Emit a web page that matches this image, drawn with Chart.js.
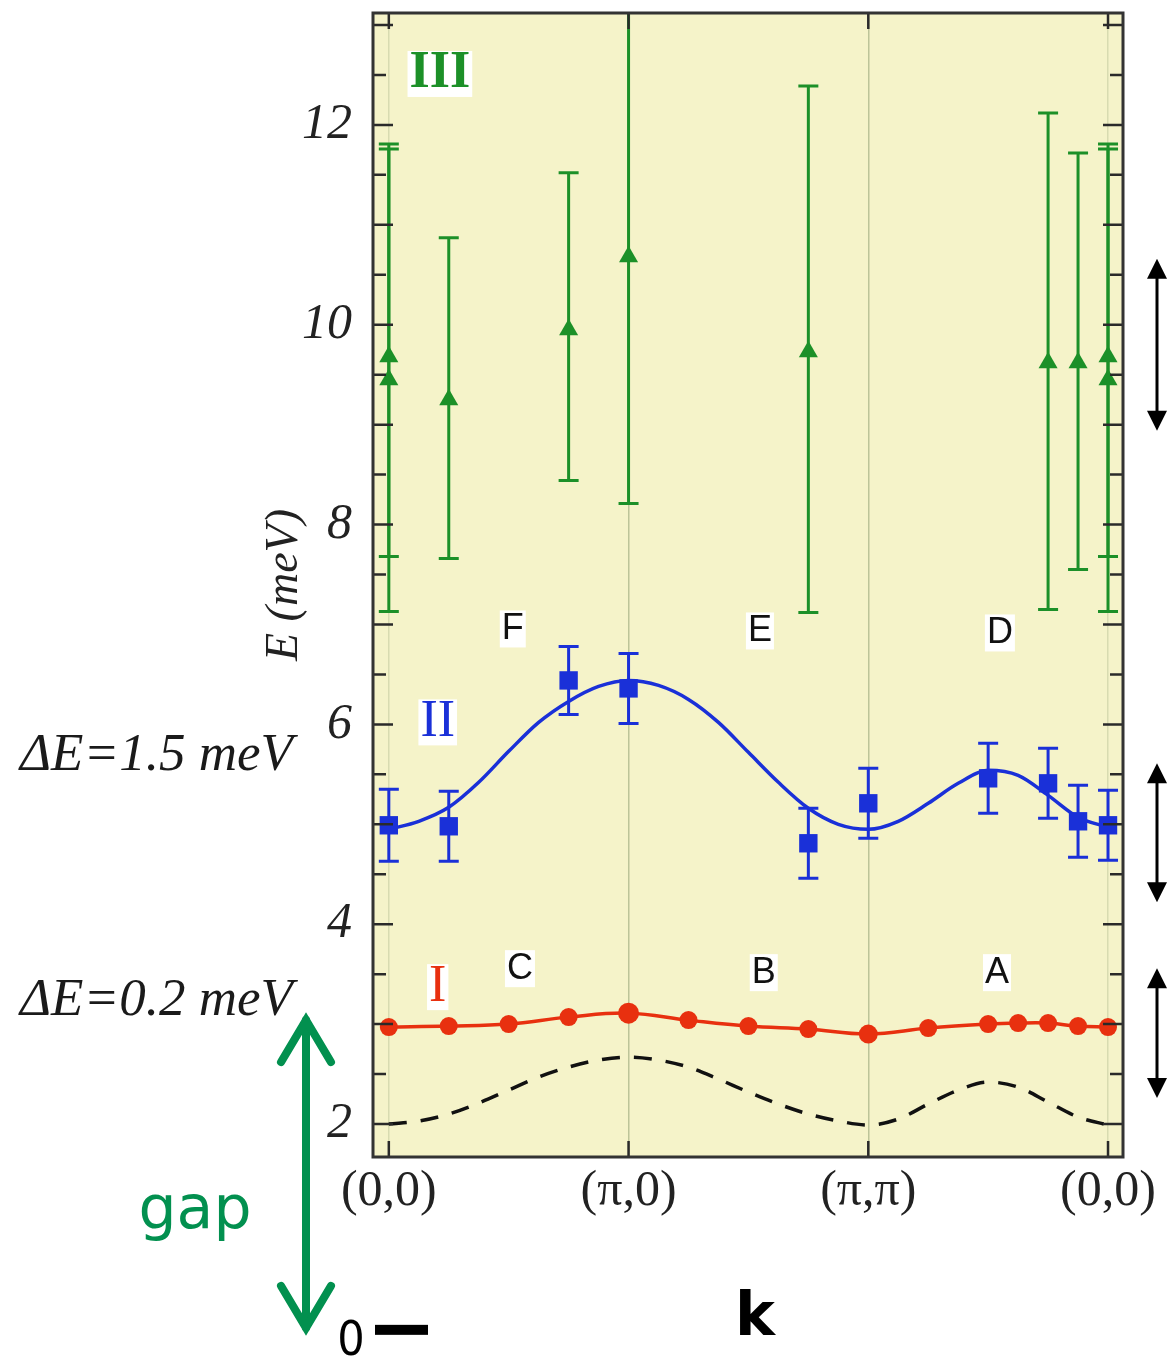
<!DOCTYPE html>
<html>
<head>
<meta charset="utf-8">
<script src="https://cdn.jsdelivr.net/npm/chart.js@4.4.0/dist/chart.umd.min.js"></script>
<style>
  body { margin: 0; background: #fff; }
  #wrap { width: 1173px; height: 1359px; }
</style>
</head>
<body>
<div id="wrap"><canvas id="grafic" width="1173" height="1359"></canvas></div>
<script>
// k path: 0=(0,0), 1=(pi,0), 2=(pi,pi), 3=(0,0)
const xTickLabels = ['(0,0)', '(π,0)', '(π,π)', '(0,0)'];
const yTickLabels = [2, 4, 6, 8, 10, 12];

// branch I (red)
const kI = [0, 0.25, 0.5, 0.75, 1, 1.25, 1.5, 1.75, 2, 2.25, 2.5, 2.625, 2.75, 2.875, 3];
const eI = [2.97, 2.98, 3.00, 3.07, 3.11, 3.04, 2.98, 2.95, 2.90, 2.96, 3.00, 3.01, 3.01, 2.98, 2.97];
const sizeI = [9, 9, 9, 9, 10.5, 9, 9, 9, 9.5, 9, 9, 9, 9, 9, 9];

// branch II (blue squares)
const kII = [0, 0.25, 0.75, 1, 1.75, 2, 2.5, 2.75, 2.875, 3];
const eII = [4.99, 4.98, 6.44, 6.36, 4.81, 5.21, 5.46, 5.41, 5.03, 4.99];
const errII = [0.36, 0.35, 0.34, 0.35, 0.35, 0.35, 0.35, 0.35, 0.36, 0.35];

// fit through branch II and the dashed curve, read along the path
const kCurve = [0, 0.125, 0.25, 0.375, 0.5, 0.625, 0.75, 0.875, 1, 1.125, 1.25, 1.375, 1.5,
                1.625, 1.75, 1.875, 2, 2.125, 2.25, 2.375, 2.5, 2.625, 2.75, 2.875, 3];
const eFitII = [4.95, 5.03, 5.17, 5.42, 5.73, 6.02, 6.23, 6.38, 6.44, 6.39, 6.25, 6.02, 5.72,
                5.42, 5.16, 5.00, 4.95, 5.03, 5.21, 5.41, 5.54, 5.49, 5.29, 5.07, 4.97];
const eDash = [2.00, 2.03, 2.10, 2.21, 2.34, 2.47, 2.57, 2.64, 2.67, 2.64, 2.57, 2.45, 2.32,
               2.20, 2.10, 2.03, 1.99, 2.05, 2.20, 2.34, 2.42, 2.37, 2.22, 2.07, 1.99];

// branch III (green triangles)
const kIII = [0, 0, 0.25, 0.75, 1, 1.75, 2.75, 2.875, 3, 3];
const eIII = [9.68, 9.45, 9.25, 9.95, 10.68, 9.73, 9.62, 9.62, 9.68, 9.45];
const hiIII = [11.76, 11.81, 10.87, 11.52, 13.15, 12.39, 12.12, 11.72, 11.76, 11.81];
const loIII = [7.68, 7.13, 7.66, 8.44, 8.21, 7.12, 7.15, 7.55, 7.68, 7.13];

// text placed in data units
const pointNames = ['F', 'E', 'D', 'C', 'B', 'A'];
const pointNameK = [0.517, 1.548, 2.549, 0.547, 1.564, 2.537];
const pointNameE = [6.96, 6.94, 6.92, 3.56, 3.52, 3.52];
const branchNames = ['III', 'II', 'I'];
const branchK = [0.213, 0.204, 0.204];
const branchE = [12.53, 6.04, 3.39];
const deltaLabels = ['ΔE=1.5 meV', 'ΔE=0.2 meV'];
const deltaE = [5.54, 3.09];
const arrowSpans = [[8.94, 10.66], [4.22, 5.61], [2.26, 3.56]];
const gapSpan = [3.06, -0.06];

const RED = '#e8300f', BLUE = '#1a30d8', GREEN = '#1c9028', GAP = '#02904f';

function pts(xs, ys) {
  return xs.map((x, i) => ({x: x, y: ys[i]}));
}

const errorBars = {
  id: 'errorBars',
  beforeDatasetDraw(chart, args) {
    const ds = chart.data.datasets[args.index];
    if (!ds.errLo) return;
    const x = chart.scales.x, y = chart.scales.y, ctx = chart.ctx, a = chart.chartArea;
    ctx.save();
    ctx.beginPath();
    ctx.rect(a.left, a.top, a.right - a.left, a.bottom - a.top);
    ctx.clip();
    ctx.strokeStyle = ds.borderColor;
    ctx.lineWidth = 3;
    ds.data.forEach((p, i) => {
      const px = x.getPixelForValue(p.x);
      const lo = y.getPixelForValue(ds.errLo[i]);
      const hi = y.getPixelForValue(ds.errHi[i]);
      ctx.beginPath();
      ctx.moveTo(px, lo); ctx.lineTo(px, hi);
      ctx.moveTo(px - 10, lo); ctx.lineTo(px + 10, lo);
      ctx.moveTo(px - 10, hi); ctx.lineTo(px + 10, hi);
      ctx.stroke();
    });
    ctx.restore();
  }
};

function doubleArrow(ctx, px, y1, y2, lw, hw, hl, color, open) {
  ctx.save();
  ctx.strokeStyle = color;
  ctx.fillStyle = color;
  ctx.lineWidth = lw;
  ctx.lineCap = open ? 'round' : 'butt';
  const top = Math.min(y1, y2), bot = Math.max(y1, y2);
  ctx.beginPath();
  ctx.moveTo(px, top + (open ? 2 : hl - 2));
  ctx.lineTo(px, bot - (open ? 2 : hl - 2));
  ctx.stroke();
  if (open) {
    ctx.beginPath();
    ctx.moveTo(px - hw, top + hl); ctx.lineTo(px, top + 2); ctx.lineTo(px + hw, top + hl);
    ctx.moveTo(px - hw, bot - hl); ctx.lineTo(px, bot - 2); ctx.lineTo(px + hw, bot - hl);
    ctx.stroke();
  } else {
    ctx.beginPath();
    ctx.moveTo(px, top); ctx.lineTo(px - hw, top + hl); ctx.lineTo(px + hw, top + hl); ctx.closePath();
    ctx.moveTo(px, bot); ctx.lineTo(px - hw, bot - hl); ctx.lineTo(px + hw, bot - hl); ctx.closePath();
    ctx.fill();
  }
  ctx.restore();
}

const decorations = {
  id: 'decorations',
  beforeDraw(chart) {
    const a = chart.chartArea, ctx = chart.ctx;
    ctx.save();
    ctx.fillStyle = '#f5f3c9';
    ctx.fillRect(a.left, a.top, a.right - a.left, a.bottom - a.top);
    ctx.restore();
  },
  afterDraw(chart) {
    const a = chart.chartArea, ctx = chart.ctx;
    const x = chart.scales.x, y = chart.scales.y;
    ctx.save();

    // inward ticks on all four sides
    ctx.strokeStyle = '#2a2a2a';
    ctx.lineWidth = 2.5;
    ctx.beginPath();
    for (let v = 2; v <= 13; v += 0.5) {
      const py = y.getPixelForValue(v);
      const len = v % 1 === 0 ? 20 : 13;
      ctx.moveTo(a.left, py); ctx.lineTo(a.left + len, py);
      ctx.moveTo(a.right, py); ctx.lineTo(a.right - len, py);
    }
    for (let i = 0; i < xTickLabels.length; i++) {
      const px = x.getPixelForValue(i);
      ctx.moveTo(px, a.bottom); ctx.lineTo(px, a.bottom - 16);
      ctx.moveTo(px, a.top); ctx.lineTo(px, a.top + 16);
    }
    ctx.stroke();

    // frame
    ctx.lineWidth = 3;
    ctx.strokeStyle = '#333';
    ctx.strokeRect(a.left, a.top, a.right - a.left, a.bottom - a.top);

    // point labels A-F
    ctx.font = '36px "Liberation Sans", Arial, sans-serif';
    ctx.textAlign = 'center';
    ctx.textBaseline = 'middle';
    pointNames.forEach((t, i) => {
      const px = x.getPixelForValue(pointNameK[i]);
      const py = y.getPixelForValue(pointNameE[i]);
      const w = ctx.measureText(t).width;
      ctx.fillStyle = '#fff';
      ctx.fillRect(px - w / 2 - 2, py - 18, w + 4, 37);
      ctx.fillStyle = '#111';
      ctx.fillText(t, px, py + 1);
    });

    // branch numerals
    const numColors = [GREEN, BLUE, RED];
    branchNames.forEach((t, i) => {
      ctx.font = (i === 0 ? 'bold ' : '') + '52px "Liberation Serif", "Times New Roman", serif';
      const px = x.getPixelForValue(branchK[i]);
      const py = y.getPixelForValue(branchE[i]);
      const w = ctx.measureText(t).width;
      ctx.fillStyle = '#fff';
      ctx.fillRect(px - w / 2 - 2, py - 21, w + 4, 46);
      ctx.fillStyle = numColors[i];
      ctx.fillText(t, px, py + 2);
    });

    // Delta E notes on the left
    ctx.font = 'italic 53px "Liberation Serif", "Times New Roman", serif';
    ctx.textAlign = 'left';
    ctx.textBaseline = 'alphabetic';
    ctx.fillStyle = '#1a1a1a';
    deltaLabels.forEach((t, i) => {
      ctx.fillText(t, 20, y.getPixelForValue(deltaE[i]));
    });

    // resolution arrows on the right
    arrowSpans.forEach(s => {
      doubleArrow(ctx, a.right + 34, y.getPixelForValue(s[1]), y.getPixelForValue(s[0]), 3, 10, 20, '#000', false);
    });

    // gap arrow down to zero
    const gTop = y.getPixelForValue(gapSpan[0]);
    const gBot = y.getPixelForValue(gapSpan[1]);
    doubleArrow(ctx, a.left - 67, gTop, gBot, 8, 25, 44, GAP, true);
    ctx.fillStyle = GAP;
    ctx.font = '60px "DejaVu Sans", sans-serif';
    ctx.textAlign = 'center';
    ctx.fillText('gap', a.left - 178, gTop + 210);

    // zero marker
    ctx.fillStyle = '#000';
    ctx.font = '48px "DejaVu Sans Condensed", "DejaVu Sans", sans-serif';
    ctx.fillText('0', a.left - 22, gBot + 25);
    ctx.fillRect(a.left + 2, gBot - 5, 53, 10);

    // k axis name
    ctx.font = 'bold 60px "DejaVu Sans", sans-serif';
    ctx.fillText('k', (a.left + a.right) / 2 + 7, a.bottom + 178);

    ctx.restore();
  }
};

const ctx = document.getElementById('grafic').getContext('2d');
const chart = new Chart(ctx, {
  type: 'scatter',
  data: {
    datasets: [
      {
        label: 'III',
        data: pts(kIII, eIII),
        errLo: loIII,
        errHi: hiIII,
        borderColor: GREEN,
        backgroundColor: GREEN,
        pointStyle: 'triangle',
        pointRadius: 11,
        borderWidth: 0,
        order: 1
      },
      {
        label: 'II',
        data: pts(kII, eII),
        errLo: eII.map((v, i) => v - errII[i]),
        errHi: eII.map((v, i) => v + errII[i]),
        borderColor: BLUE,
        backgroundColor: BLUE,
        pointStyle: 'rect',
        pointRadius: 13,
        borderWidth: 0,
        order: 2
      },
      {
        label: 'I',
        type: 'line',
        data: pts(kI, eI),
        borderColor: RED,
        backgroundColor: RED,
        borderWidth: 3.5,
        pointRadius: sizeI,
        pointBorderWidth: 0,
        tension: 0.4,
        order: 3
      },
      {
        label: 'fit II',
        type: 'line',
        data: pts(kCurve, eFitII),
        borderColor: BLUE,
        borderWidth: 3.5,
        pointRadius: 0,
        cubicInterpolationMode: 'monotone',
        order: 4
      },
      {
        label: 'dashed',
        type: 'line',
        data: pts(kCurve, eDash),
        borderColor: '#111',
        borderWidth: 3.5,
        borderDash: [18, 14],
        pointRadius: 0,
        cubicInterpolationMode: 'monotone',
        order: 5
      }
    ]
  },
  options: {
    responsive: false,
    devicePixelRatio: 1,
    animation: false,
    layout: { padding: { left: 0, right: 50, top: 13, bottom: 0 } },
    plugins: {
      legend: { display: false },
      tooltip: { enabled: false }
    },
    scales: {
      x: {
        type: 'linear',
        min: -0.066,
        max: 3.0625,
        afterFit: s => { s.height = 202; s.paddingLeft = 0; s.paddingRight = 0; },
        afterBuildTicks: s => { s.ticks = xTickLabels.map((t, i) => ({value: i})); },
        ticks: {
          padding: 5,
          color: '#222',
          font: { family: '"Liberation Serif", "Times New Roman", serif', size: 50 },
          callback: (v, i) => xTickLabels[i]
        },
        grid: {
          drawTicks: false,
          lineWidth: 1.5,
          color: c => (c.index === 1 || c.index === 2) ? 'rgba(150,165,120,0.6)' : 'rgba(150,165,120,0.3)'
        },
        border: { display: false }
      },
      y: {
        type: 'linear',
        min: 1.67,
        max: 13.12,
        afterFit: s => { s.width = 373; s.paddingTop = 0; s.paddingBottom = 0; },
        afterBuildTicks: s => { s.ticks = yTickLabels.map(v => ({value: v})); },
        ticks: {
          padding: 21,
          color: '#222',
          font: { family: '"Liberation Serif", "Times New Roman", serif', size: 50, style: 'italic' }
        },
        grid: { display: false, drawTicks: false },
        border: { display: false },
        title: {
          display: true,
          text: 'E (meV)',
          color: '#222',
          padding: { top: 257, bottom: 0 },
          font: { family: '"Liberation Serif", "Times New Roman", serif', size: 46, style: 'italic' }
        }
      }
    }
  },
  plugins: [errorBars, decorations]
});
</script>
</body>
</html>
